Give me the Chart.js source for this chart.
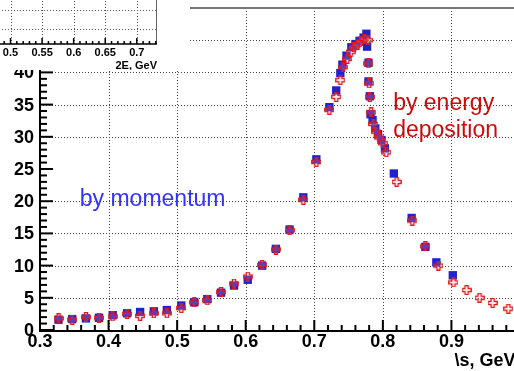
<!DOCTYPE html>
<html><head><meta charset="utf-8">
<script src="https://cdn.jsdelivr.net/npm/chart.js@4"></script>
<style>
html,body{margin:0;padding:0;background:#fff;overflow:hidden;}
#wrap{position:relative;width:514px;height:371px;overflow:hidden;background:#fff;}
#main{position:absolute;left:0;top:0;}
#inset{position:absolute;left:-40px;top:-20px;}
</style></head><body>
<div id="wrap"><canvas id="main" width="540" height="371" style="width:540px;height:371px"></canvas><canvas id="inset" width="230" height="90" style="width:230px;height:90px"></canvas></div>
<script>
// ---- data ----
const momentumX = [0.327,0.347,0.367,0.386,0.406,0.427,0.446,0.466,0.485,0.506,0.525,0.544,0.564,0.583,0.603,0.624,0.644,0.664,0.684,0.703,0.722,0.732,0.738,0.741,0.747,0.754,0.760,0.766,0.772,0.776,0.777,0.779,0.779,0.781,0.782,0.785,0.789,0.793,0.798,0.803,0.816,0.842,0.862,0.878,0.902];
const momentumY = [1.6,1.7,1.8,1.9,2.3,2.6,2.8,2.9,3.1,3.8,4.3,4.8,5.8,6.9,7.8,10.0,12.6,15.6,20.6,26.5,34.6,37.2,39.9,41.2,42.6,43.9,44.4,44.9,45.4,46.0,44.0,41.5,38.6,36.3,33.5,32.6,31.3,30.4,29.5,28.2,24.3,17.4,12.9,10.5,8.5];
const energyX = [0.327,0.347,0.367,0.386,0.406,0.427,0.446,0.466,0.485,0.506,0.525,0.544,0.564,0.583,0.603,0.624,0.644,0.664,0.684,0.703,0.722,0.732,0.738,0.742,0.748,0.753,0.758,0.763,0.768,0.773,0.778,0.779,0.780,0.781,0.783,0.786,0.790,0.795,0.800,0.805,0.820,0.843,0.862,0.881,0.903,0.922,0.941,0.960,0.983];
const energyY = [1.8,1.6,2.0,1.9,2.1,2.5,2.2,2.6,2.6,3.4,4.3,4.6,5.9,7.2,8.3,10.1,12.5,15.5,20.2,26.1,34.2,36.2,38.8,40.8,42.1,43.2,43.9,44.3,44.8,45.2,45.0,41.4,38.3,36.2,33.8,32.0,30.8,29.9,29.0,27.6,23.0,17.0,13.0,10.0,7.4,6.2,5.0,4.2,3.3];
const xMajorTicks = [0.3,0.4,0.5,0.6,0.7,0.8,0.9,1.0];
const yMajorTicks = [0,5,10,15,20,25,30,35,40,45,50];
const yGridValues = [5,10,15,20,30,35,40,45];
const insetTickLabels = ["0.5","0.55","0.6","0.65","0.7"];
const insetTickValues = [0.5,0.55,0.6,0.65,0.7];
const insetGridY = [1,2,3];
const xTitle = "\\s, GeV";
const insetTitle = "2E, GeV";
const labelMomentum = "by momentum";
const labelEnergy = ["by energy","deposition"];

const FONT = "'Liberation Sans', Arial, Helvetica, sans-serif";

// open-cross marker
function openCross(size, color){
  const c = document.createElement('canvas');
  c.width = size; c.height = size;
  const g = c.getContext('2d');
  const m = size/2, L = size/2 - 0.7, a = size*0.16;
  g.beginPath();
  g.moveTo(m-a,m-L); g.lineTo(m+a,m-L); g.lineTo(m+a,m-a); g.lineTo(m+L,m-a);
  g.lineTo(m+L,m+a); g.lineTo(m+a,m+a); g.lineTo(m+a,m+L); g.lineTo(m-a,m+L);
  g.lineTo(m-a,m+a); g.lineTo(m-L,m+a); g.lineTo(m-L,m-a); g.lineTo(m-a,m-a);
  g.closePath();
  g.fillStyle = 'rgba(255,150,150,0.25)';
  g.fill();
  g.strokeStyle = color; g.lineWidth = 1.2;
  g.stroke();
  return c;
}
const crossImg = openCross(10, '#e01818');

const toPts = (xs, ys) => xs.map((x,i)=>({x:x, y:ys[i]}));

const framePlugin = {
  id:'frame',
  beforeDatasetsDraw(chart){
    const ctx = chart.ctx, a = chart.chartArea, xs = chart.scales.x, ys = chart.scales.y;
    ctx.save();
    ctx.strokeStyle = '#444'; ctx.lineWidth = 1; ctx.setLineDash([1,2]);
    xMajorTicks.forEach(v=>{
      if (v<=0.3 || v>=1.0) return;
      const p = Math.round(xs.getPixelForValue(v))+0.5;
      ctx.beginPath(); ctx.moveTo(p,a.top); ctx.lineTo(p,a.bottom); ctx.stroke();
    });
    yGridValues.forEach(v=>{
      const p = Math.round(ys.getPixelForValue(v))+0.5;
      ctx.beginPath(); ctx.moveTo(a.left,p); ctx.lineTo(a.right,p); ctx.stroke();
    });
    ctx.setLineDash([]);
    ctx.strokeStyle = '#777'; ctx.lineWidth = 2;
    ctx.beginPath(); ctx.moveTo(a.left,a.top); ctx.lineTo(a.right,a.top); ctx.stroke();
    ctx.strokeStyle = '#000'; ctx.lineWidth = 2;
    ctx.beginPath(); ctx.moveTo(a.left,a.top); ctx.lineTo(a.left,a.bottom+1); ctx.lineTo(a.right,a.bottom+1); ctx.stroke();
    for (let i=0;i<xMajorTicks.length-1;i++){
      const v0 = xMajorTicks[i], v1 = xMajorTicks[i+1];
      for (let k=0;k<5;k++){
        const v = v0 + (v1-v0)*k/5;
        const p = xs.getPixelForValue(v);
        const len = k===0 ? 10 : 5;
        ctx.beginPath(); ctx.moveTo(p,a.bottom); ctx.lineTo(p,a.bottom-len); ctx.stroke();
      }
    }
    for (let i=0;i<yMajorTicks.length-1;i++){
      const v0 = yMajorTicks[i], v1 = yMajorTicks[i+1];
      for (let k=0;k<5;k++){
        const v = v0 + (v1-v0)*k/5;
        const p = ys.getPixelForValue(v);
        const len = k===0 ? 13 : 7;
        ctx.beginPath(); ctx.moveTo(a.left,p); ctx.lineTo(a.left+len,p); ctx.stroke();
      }
    }
    ctx.fillStyle = '#000';
    ctx.font = "bold 18px " + FONT;
    ctx.textAlign = 'right'; ctx.textBaseline = 'middle';
    yMajorTicks.forEach(v=>{
      ctx.fillText(String(v), a.left - 6, ys.getPixelForValue(v) + 1);
    });
    ctx.restore();
  },
  afterDatasetsDraw(chart){
    const ctx = chart.ctx, xs = chart.scales.x, ys = chart.scales.y;
    ctx.save();
    ctx.textBaseline = 'middle'; ctx.textAlign = 'left';
    ctx.font = "23px " + FONT;
    ctx.fillStyle = '#3333ff';
    ctx.fillText(labelMomentum, xs.getPixelForValue(0.358), ys.getPixelForValue(20.2));
    ctx.fillStyle = '#cc0a0a';
    ctx.fillText(labelEnergy[0], xs.getPixelForValue(0.815), ys.getPixelForValue(35.2));
    ctx.fillText(labelEnergy[1], xs.getPixelForValue(0.815), ys.getPixelForValue(31.0));
    ctx.fillStyle = '#000';
    ctx.font = "bold 18px " + FONT;
    ctx.textAlign = 'left';
    ctx.fillText(xTitle, xs.getPixelForValue(0.9) + 3, chart.chartArea.bottom + 31);
    ctx.restore();
  }
};

new Chart(document.getElementById('main'), {
  type:'scatter',
  data:{datasets:[
    {label:'by energy deposition', data:toPts(energyX,energyY), pointStyle:crossImg, pointRadius:5, showLine:false},
    {label:'by momentum', data:toPts(momentumX,momentumY), pointStyle:'rect', pointRadius:5.9, pointBackgroundColor:'#2222cc', pointBorderColor:'#2222cc', pointBorderWidth:0, showLine:false}
  ]},
  options:{
    responsive:false, animation:false, devicePixelRatio:1,
    layout:{padding:{left:0,right:20,top:8,bottom:0}},
    plugins:{legend:{display:false},tooltip:{enabled:false}},
    scales:{
      x:{type:'linear',min:0.3,max:1.0,
        grid:{display:false,drawTicks:false}, border:{display:false},
        ticks:{stepSize:0.1,autoSkip:false,maxRotation:0,padding:1,color:'#000',
          font:{family:FONT,weight:'bold',size:18},
          callback:v=>{const r=Math.round(v*10)/10; return r===1?'1':r.toFixed(1);}},
        afterFit:s=>{s.height=41;}},
      y:{type:'linear',min:0,max:50,
        grid:{display:false,drawTicks:false}, border:{display:false},
        ticks:{display:false,stepSize:5},
        afterFit:s=>{s.width=40;}}
    }
  },
  plugins:[framePlugin]
});

const insetPlugin = {
  id:'insetFrame',
  beforeDraw(chart){
    const ctx = chart.ctx;
    ctx.save(); ctx.fillStyle = '#fff'; ctx.fillRect(0,0,chart.width,chart.height); ctx.restore();
  },
  afterDraw(chart){
    const ctx = chart.ctx, a = chart.chartArea, xs = chart.scales.x, ys = chart.scales.y;
    ctx.save();
    ctx.strokeStyle = '#555'; ctx.lineWidth = 1; ctx.setLineDash([1,2]);
    insetTickValues.forEach(v=>{
      const p = Math.round(xs.getPixelForValue(v))+0.5;
      ctx.beginPath(); ctx.moveTo(p,a.top); ctx.lineTo(p,a.bottom); ctx.stroke();
    });
    insetGridY.forEach(v=>{
      const p = Math.round(ys.getPixelForValue(v))+0.5;
      ctx.beginPath(); ctx.moveTo(a.left,p); ctx.lineTo(a.right,p); ctx.stroke();
    });
    ctx.setLineDash([]);
    ctx.strokeStyle = '#666'; ctx.lineWidth = 1;
    ctx.beginPath(); ctx.moveTo(a.right-0.5,a.top); ctx.lineTo(a.right-0.5,a.bottom); ctx.stroke();
    ctx.strokeStyle = '#000'; ctx.lineWidth = 1.5;
    ctx.beginPath(); ctx.moveTo(a.left,a.bottom); ctx.lineTo(a.right,a.bottom); ctx.stroke();
    for (let i=0;i<insetTickValues.length;i++){
      const v0 = insetTickValues[i];
      for (let k=0;k<5;k++){
        const v = v0 + 0.01*k;
        const p = xs.getPixelForValue(v);
        if (p > a.right) continue;
        const len = k===0 ? 6 : 3;
        ctx.beginPath(); ctx.moveTo(p,a.bottom); ctx.lineTo(p,a.bottom-len); ctx.stroke();
      }
    }
    for (let k=1;k<5;k++){
      const p = xs.getPixelForValue(0.5-0.01*k);
      ctx.beginPath(); ctx.moveTo(p,a.bottom); ctx.lineTo(p,a.bottom-3); ctx.stroke();
    }
    ctx.fillStyle = '#000';
    ctx.font = "bold 11px " + FONT;
    ctx.textAlign = 'center'; ctx.textBaseline = 'middle';
    insetTickValues.forEach((v,i)=>{
      ctx.fillText(insetTickLabels[i], xs.getPixelForValue(v), a.bottom + 9);
    });
    ctx.textAlign = 'right';
    ctx.fillText(insetTitle, a.right, a.bottom + 22);
    ctx.restore();
  }
};

new Chart(document.getElementById('inset'), {
  type:'scatter',
  data:{datasets:[]},
  options:{
    responsive:false, animation:false, devicePixelRatio:1,
    layout:{padding:{left:0,right:33,top:0,bottom:26}},
    plugins:{legend:{display:false},tooltip:{enabled:false}},
    scales:{
      x:{type:'linear',min:0.42,max:0.732,display:false},
      y:{type:'linear',min:0.21,max:3.58,display:false}
    }
  },
  plugins:[insetPlugin]
});
</script>
</body></html>
